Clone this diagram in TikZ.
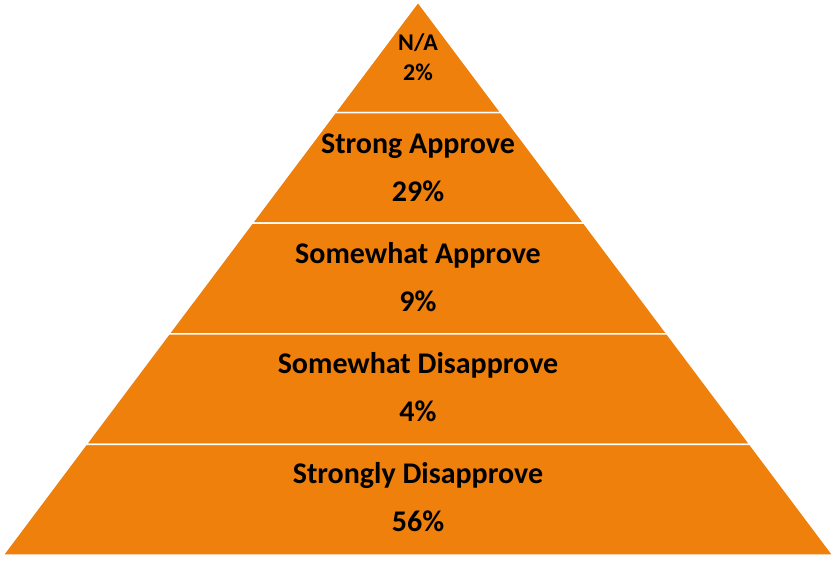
\documentclass[tikz,border=0pt]{standalone}
\usepackage{fontspec}
\setmainfont{Carlito}
\usetikzlibrary{positioning}
\definecolor{pyrorange}{RGB}{239,128,11}

\begin{document}
\begin{tikzpicture}[x=1pt, y=-1pt,
    band/.style={fill=pyrorange, draw=white, line width=1.5pt},
    lbl/.style={anchor=base, inner sep=0pt, font=\bfseries\fontsize{30}{30}\selectfont},
    toplbl/.style={lbl, font=\bfseries\fontsize{24}{24}\selectfont}
]
    \useasboundingbox (0,0) rectangle (835,560);
    % pyramid bands, top to bottom
    \foreach \k in {0,...,4} {
        \pgfmathsetmacro{\yt}{2+110.6*\k}
        \pgfmathsetmacro{\yb}{\yt+110.6}
        \pgfmathsetmacro{\wt}{(\yt-2)/553*415}
        \pgfmathsetmacro{\wb}{(\yb-2)/553*415}
        \path[band] (418-\wt,\yt) -- (418+\wt,\yt) -- (418+\wb,\yb) -- (418-\wb,\yb) -- cycle;
    }
    % labels
    \node[toplbl] (na) at (418,50) {N/A};
    \node[toplbl] (napct) at (418,80) {2\%};
    \foreach \n/\txt/\pct [count=\i from 0] in {strong/Strong Approve/29, swapp/Somewhat Approve/9, swdis/Somewhat Disapprove/4, sdis/Strongly Disapprove/56} {
        \node[lbl] (\n) at (418,153+110*\i) {\txt};
        \node[lbl] (\n pct) at (418,201+110*\i) {\pct\%};
    }
\end{tikzpicture}
\end{document}
